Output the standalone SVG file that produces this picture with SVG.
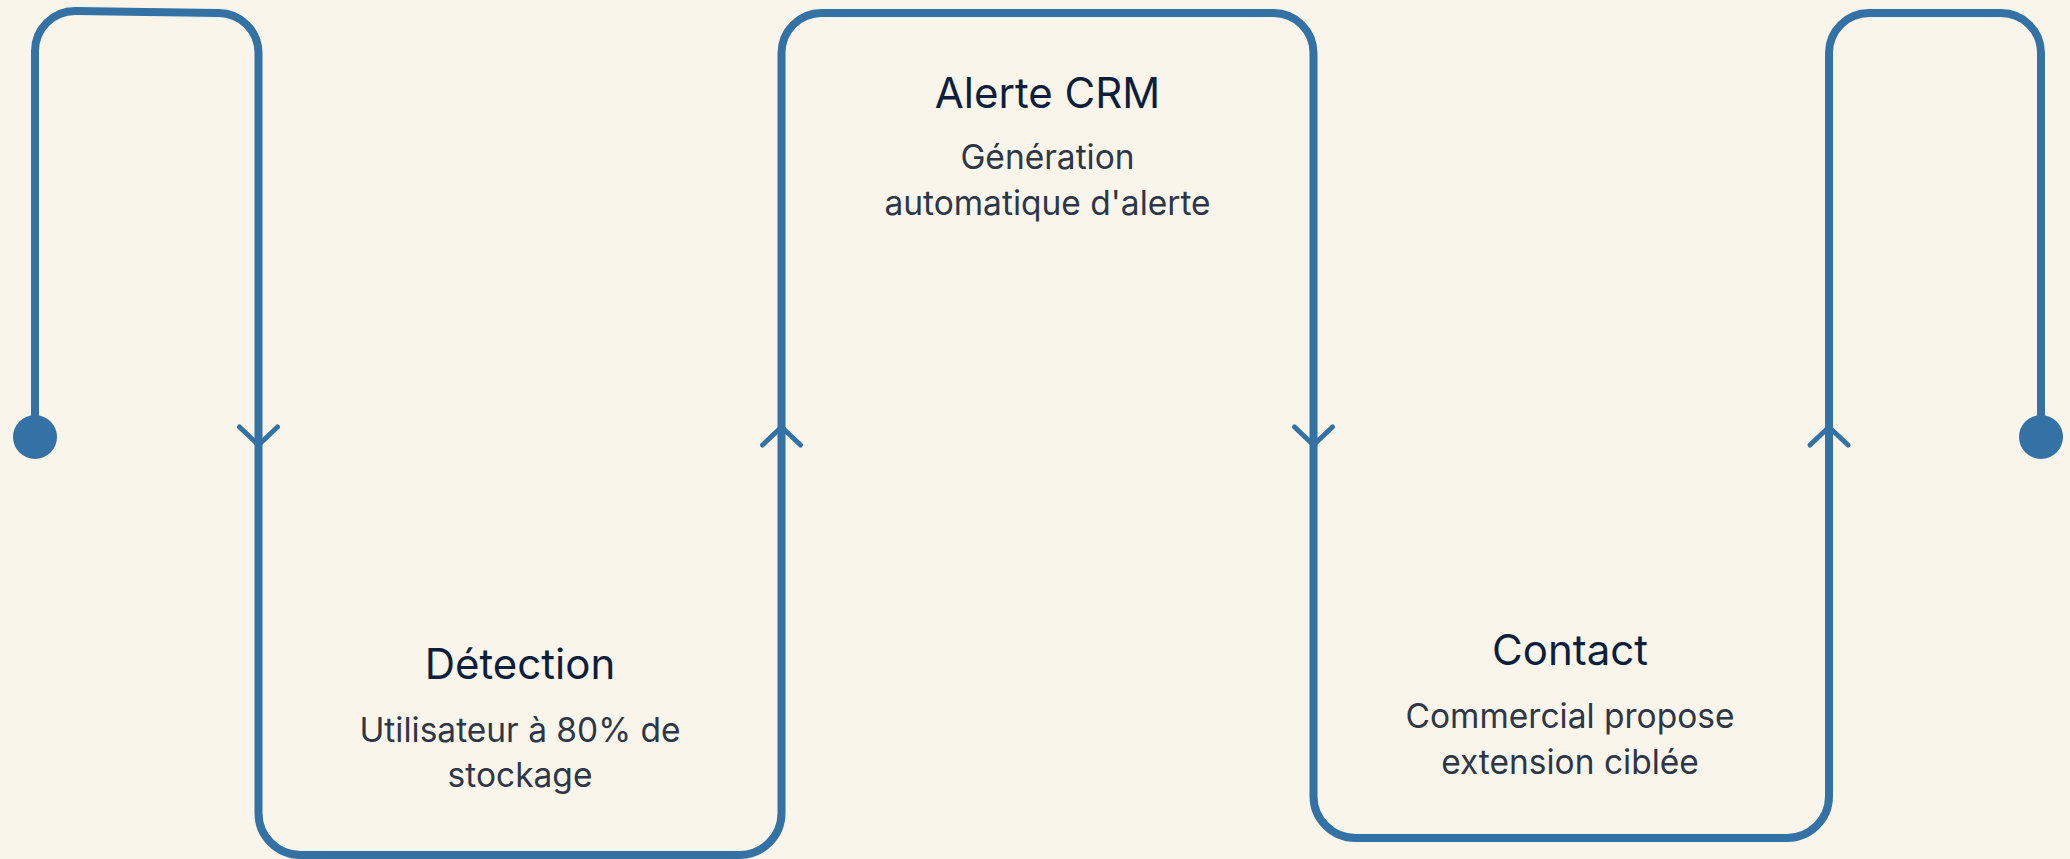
<svg xmlns="http://www.w3.org/2000/svg" width="2070" height="859" viewBox="0 0 2070 859">
  <style>
    .line { fill: none; stroke: #3471a5; stroke-width: 8; stroke-linecap: butt; stroke-linejoin: round; }
    .chev { fill: none; stroke: #3471a5; stroke-width: 5; stroke-linecap: round; stroke-linejoin: round; }
    .dot { fill: #3471a5; }
    .title { font-family: Inter, "Liberation Sans", sans-serif; font-size: 42px; fill: #0d1f3c; text-anchor: middle; }
    .desc { font-family: Inter, "Liberation Sans", sans-serif; font-size: 33.5px; fill: #2d3748; text-anchor: middle; }
  </style>
  <defs>
    <!-- downward chevron, tip at the origin -->
    <path id="chev-down" class="chev" d="M-19,-18 L0,0 L19,-18"/>
  </defs>

  <rect width="2070" height="859" fill="#f9f5eb"/>

  <!-- flow line: entry hook, exit hook, direction chevrons -->
  <g id="connectors">
    <path class="line" d="M35,437 V51 A40,40 0 0 1 75,11 L218.5,13 A40,40 0 0 1 258.5,53 V437"/>
    <circle class="dot" cx="35" cy="437" r="22"/>
    <path class="line" d="M1829,437 V53 A40,40 0 0 1 1869,13 H2001 A40,40 0 0 1 2041,53 V437"/>
    <circle class="dot" cx="2041" cy="437" r="22"/>
    <use href="#chev-down" x="258.5" y="445"/>
    <use href="#chev-down" transform="translate(781.5,427) rotate(180)"/>
    <use href="#chev-down" x="1313.5" y="445"/>
    <use href="#chev-down" transform="translate(1829,427) rotate(180)"/>
  </g>

  <g id="node-detection">
    <path class="line" d="M258.5,437 V813 A42,42 0 0 0 300.5,855 H739.5 A42,42 0 0 0 781.5,813 V437"/>
    <text class="title" x="520" y="679">Détection</text>
    <text class="desc" x="520" y="742">Utilisateur à 80% de</text>
    <text class="desc" x="520" y="787">stockage</text>
  </g>

  <g id="node-alerte-crm">
    <path class="line" d="M781.5,437 V53 A40,40 0 0 1 821.5,13 H1273.5 A40,40 0 0 1 1313.5,53 V437"/>
    <text class="title" x="1047.5" y="108">Alerte CRM</text>
    <text class="desc" x="1047.5" y="169">Génération</text>
    <text class="desc" x="1047.5" y="215">automatique d'alerte</text>
  </g>

  <g id="node-contact">
    <path class="line" d="M1313.5,437 V796 A42,42 0 0 0 1355.5,838 H1787 A42,42 0 0 0 1829,796 V437"/>
    <text class="title" x="1570" y="665">Contact</text>
    <text class="desc" x="1570" y="728">Commercial propose</text>
    <text class="desc" x="1570" y="774">extension ciblée</text>
  </g>
</svg>
